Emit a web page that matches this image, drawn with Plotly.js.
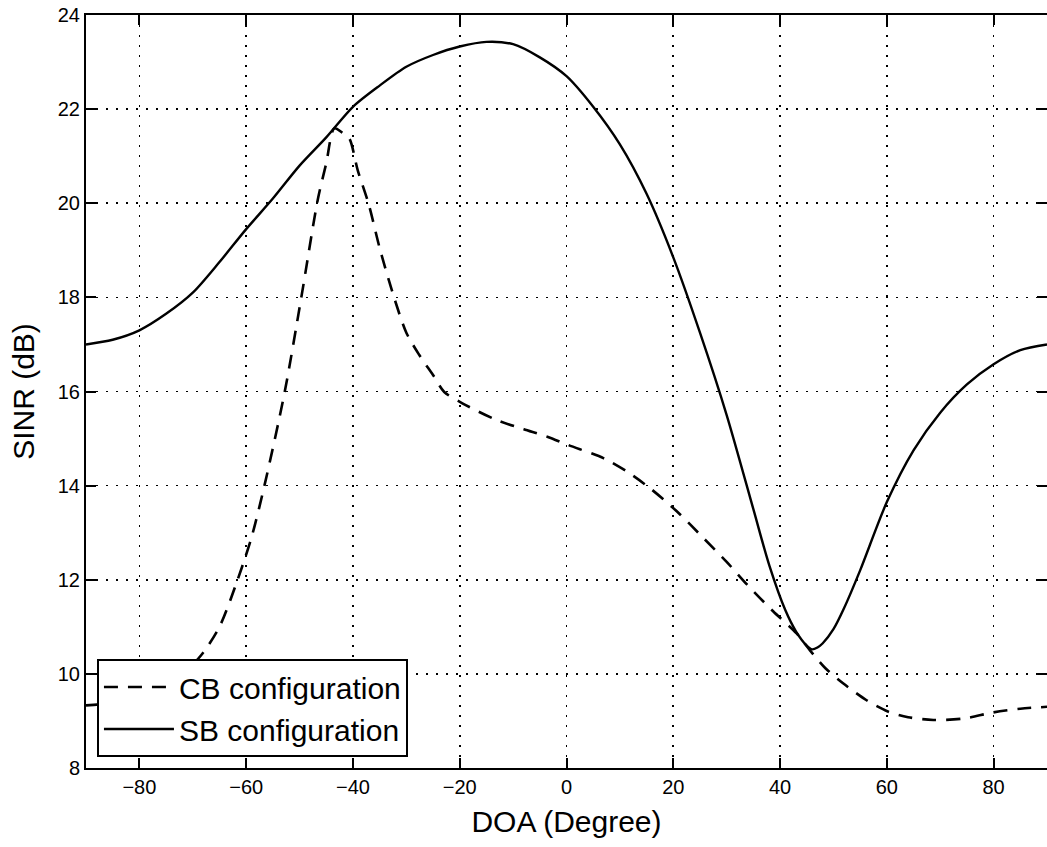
<!DOCTYPE html>
<html>
<head>
<meta charset="utf-8">
<script src="https://cdn.plot.ly/plotly-3.0.1.min.js"></script>
<style>html,body{margin:0;padding:0;background:#fff;}#chart{width:1047px;height:847px;}</style>
</head>
<body>
<div id="chart"></div>
<script>
// SB configuration (solid)
const sbX = [-90,-85,-80,-75,-70,-65,-60,-55,-50,-45,-40,-35,-30,-25,-20,-15,-10,-5,0,5,10,15,20,25,30,35,38,41,43,45,46,47,48,50,52,55,60,65,70,75,80,85,90];
const sbY = [17.0,17.1,17.3,17.65,18.1,18.75,19.45,20.1,20.8,21.4,22.05,22.5,22.9,23.15,23.33,23.43,23.38,23.1,22.7,22.05,21.25,20.2,18.85,17.25,15.5,13.5,12.3,11.35,10.9,10.6,10.52,10.56,10.65,10.95,11.4,12.2,13.65,14.75,15.55,16.15,16.58,16.88,17.0];
// CB configuration (dashed)
const cbX = [-90,-85,-80,-75,-71.8,-68.4,-65,-61.6,-59,-56.6,-52.8,-49.7,-46.6,-45,-43.5,-42,-40.7,-39.1,-37,-35,-32.3,-30,-27.6,-25,-22.9,-19.5,-13,-8,-3.6,0.4,7,11.3,15.7,20.7,25.7,30,33.8,38.7,43.1,45.6,48.5,51.8,56.2,60.2,64,68.7,74.3,79.9,85,90];
const cbY = [9.33,9.38,9.5,9.75,10.0,10.4,11.0,12.0,12.9,13.99,15.98,17.98,20.07,20.85,21.59,21.5,21.38,20.7,19.96,19.05,18.0,17.25,16.78,16.35,15.99,15.75,15.39,15.2,15.04,14.86,14.58,14.3,13.94,13.45,12.88,12.38,11.9,11.33,10.86,10.5,10.12,9.8,9.44,9.2,9.08,9.02,9.05,9.18,9.26,9.3];
const xTicks = [-80,-60,-40,-20,0,20,40,60,80];
const yTicks = [8,10,12,14,16,18,20,22,24];
const seriesNames = ["CB configuration", "SB configuration"];

const font = "Liberation Sans, Arial, Helvetica, sans-serif";
const traces = [
  {x: cbX, y: cbY, name: seriesNames[0], mode: "lines", type: "scatter",
   line: {color: "#000", width: 2.6, dash: "14px,10px", shape: "spline", smoothing: 0.8}},
  {x: sbX, y: sbY, name: seriesNames[1], mode: "lines", type: "scatter",
   line: {color: "#000", width: 2.4, shape: "spline", smoothing: 0.8}}
];
const axisCommon = {
  showline: true, linecolor: "#000", linewidth: 2, mirror: "ticks",
  ticks: "inside", ticklen: 10, tickwidth: 2, tickcolor: "#000",
  showgrid: true, gridcolor: "#000", gridwidth: 1.6, griddash: "2px,8px",
  zeroline: false, tickfont: {family: font, size: 20, color: "#000"}
};
const layout = {
  width: 1047, height: 847,
  margin: {l: 86, r: 0, t: 15, b: 79},
  paper_bgcolor: "#fff", plot_bgcolor: "#fff",
  showlegend: true,
  xaxis: Object.assign({}, axisCommon, {
    range: [-90, 90], tickvals: xTicks, ticktext: xTicks.map(v => v < 0 ? "\u2212" + Math.abs(v) : String(v)),
    title: {text: "DOA (Degree)", font: {family: font, size: 30, color: "#000"}, standoff: 14}
  }),
  yaxis: Object.assign({}, axisCommon, {
    range: [8, 24], tickvals: yTicks,
    title: {text: "SINR (dB)", font: {family: font, size: 30, color: "#000"}, standoff: 14}
  }),
  legend: {
    x: 0.0114, y: 0.0146, xanchor: "left", yanchor: "bottom",
    bgcolor: "#fff", bordercolor: "#000", borderwidth: 2,
    font: {family: font, size: 30, color: "#000"},
    itemwidth: 70, tracegroupgap: 0
  }
};
Plotly.newPlot("chart", traces, layout, {displayModeBar: false, staticPlot: true});
</script>
</body>
</html>
